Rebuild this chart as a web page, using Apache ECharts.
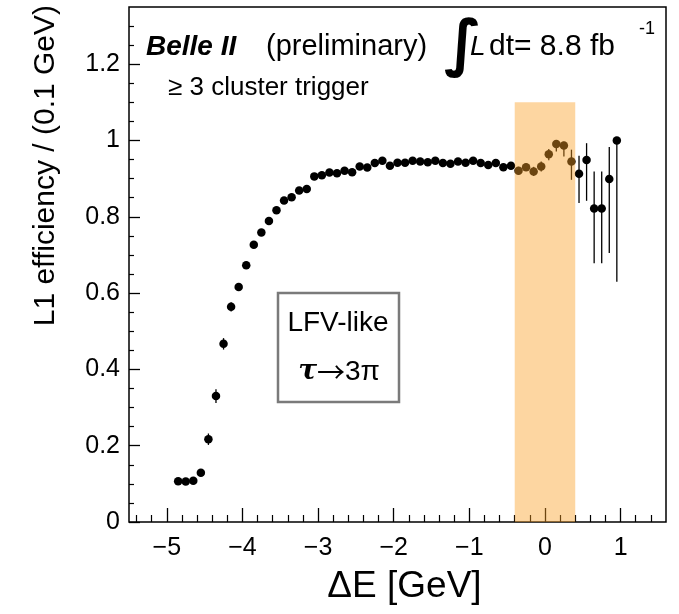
<!DOCTYPE html>
<html>
<head>
<meta charset="utf-8">
<script src="https://cdn.jsdelivr.net/npm/echarts@6/dist/echarts.min.js"></script>
<style>
  html, body { margin: 0; padding: 0; background: #fff; }
  #chart { width: 679px; height: 614px; }
</style>
</head>
<body>
<div id="chart"></div>
<script>
// bin centres (0.1 GeV bins) and L1 efficiency
const deltaE = [-4.85, -4.75, -4.65, -4.55, -4.45, -4.35, -4.25, -4.15, -4.05, -3.95,
    -3.85, -3.75, -3.65, -3.55, -3.45, -3.35, -3.25, -3.15, -3.05, -2.95,
    -2.85, -2.75, -2.65, -2.55, -2.45, -2.35, -2.25, -2.15, -2.05, -1.95,
    -1.85, -1.75, -1.65, -1.55, -1.45, -1.35, -1.25, -1.15, -1.05, -0.95,
    -0.85, -0.75, -0.65, -0.55, -0.45, -0.35, -0.25, -0.15, -0.05, 0.05,
    0.15, 0.25, 0.35, 0.45, 0.55, 0.65, 0.75, 0.85, 0.95];
const efficiency = [0.107, 0.106, 0.108, 0.129, 0.217, 0.330, 0.467, 0.564, 0.616, 0.673,
    0.727, 0.759, 0.789, 0.817, 0.843, 0.851, 0.869, 0.873, 0.906, 0.909,
    0.916, 0.914, 0.921, 0.917, 0.932, 0.929, 0.941, 0.947, 0.934, 0.942,
    0.942, 0.947, 0.945, 0.943, 0.947, 0.941, 0.939, 0.945, 0.942, 0.947,
    0.941, 0.936, 0.941, 0.930, 0.934, 0.921, 0.930, 0.919, 0.932, 0.964,
    0.991, 0.987, 0.945, 0.913, 0.949, 0.822, 0.822, 0.899, 1.000];
const errLow = [0.008, 0.008, 0.008, 0.010, 0.015, 0.018, 0.015, 0.012, 0.010, 0.010,
    0.009, 0.009, 0.008, 0.008, 0.007, 0.007, 0.007, 0.006, 0.006, 0.006,
    0.006, 0.006, 0.006, 0.006, 0.006, 0.006, 0.006, 0.006, 0.006, 0.006,
    0.006, 0.006, 0.006, 0.006, 0.006, 0.006, 0.006, 0.006, 0.006, 0.006,
    0.007, 0.007, 0.008, 0.008, 0.009, 0.010, 0.010, 0.012, 0.013, 0.016,
    0.020, 0.029, 0.048, 0.077, 0.107, 0.144, 0.144, 0.194, 0.370];
const errHigh = [0.008, 0.008, 0.008, 0.010, 0.015, 0.018, 0.015, 0.012, 0.010, 0.010,
    0.009, 0.009, 0.008, 0.008, 0.007, 0.007, 0.007, 0.006, 0.006, 0.006,
    0.006, 0.006, 0.006, 0.006, 0.006, 0.006, 0.006, 0.006, 0.006, 0.006,
    0.006, 0.006, 0.006, 0.006, 0.006, 0.006, 0.006, 0.006, 0.006, 0.006,
    0.007, 0.007, 0.008, 0.008, 0.009, 0.010, 0.010, 0.012, 0.013, 0.014,
    0.008, 0.010, 0.031, 0.047, 0.044, 0.097, 0.097, 0.084, 0.000];

// signal window band: [from, to, top]
const band = [[-0.4, 0.4, 1.1]];

// axis ticks
const xMajorTicks = [-5, -4, -3, -2, -1, 0, 1];
const xMinorTicks = [-5.4, -5.2, -4.8, -4.6, -4.4, -4.2, -3.8, -3.6, -3.4, -3.2,
    -2.8, -2.6, -2.4, -2.2, -1.8, -1.6, -1.4, -1.2, -0.8, -0.6, -0.4, -0.2,
    0.2, 0.4, 0.6, 0.8, 1.2, 1.4];
const yMajorTicks = [0, 0.2, 0.4, 0.6, 0.8, 1, 1.2];
const yMinorTicks = [0.05, 0.1, 0.15, 0.25, 0.3, 0.35, 0.45, 0.5, 0.55, 0.65, 0.7, 0.75,
    0.85, 0.9, 0.95, 1.05, 1.1, 1.15, 1.25, 1.3];

const FONT = '"Liberation Sans", Arial, Helvetica, sans-serif';

const points = deltaE.map(function(x, i) { return [x, efficiency[i]]; });
const bars = deltaE.map(function(x, i) {
    return [x, efficiency[i] - errLow[i], efficiency[i] + errHigh[i]];
});

const chart = echarts.init(document.getElementById('chart'), null, { renderer: 'canvas' });

const xBase = { type: 'value', min: -5.5, max: 1.6, gridIndex: 0, position: 'bottom', offset: 0,
    splitLine: { show: false }, axisLine: { show: false, onZero: false } };
const yBase = { type: 'value', min: 0, max: 1.35, gridIndex: 0, position: 'left', offset: 0,
    splitLine: { show: false }, axisLine: { show: false, onZero: false } };

const option = {
    animation: false,
    backgroundColor: '#fff',
    grid: {
        left: 129, right: 13, top: 7, bottom: 92,
        show: true, borderColor: '#000', borderWidth: 1.5, backgroundColor: 'transparent'
    },
    xAxis: [
        Object.assign({}, xBase, {
            name: 'ΔE [GeV]',
            nameLocation: 'middle',
            nameGap: 46,
            nameTextStyle: { fontFamily: FONT, fontSize: 37, color: '#000', padding: [0, 0, 0, 14] },
            axisTick: { inside: true, length: 14, customValues: xMajorTicks, lineStyle: { color: '#000', width: 1.3 } },
            axisLabel: {
                customValues: xMajorTicks, margin: 14, fontFamily: FONT, fontSize: 25, color: '#000',
                formatter: function(v) { return v < 0 ? '\u2212' + Math.abs(v) : String(v); }
            }
        }),
        Object.assign({}, xBase, {
            axisTick: { inside: true, length: 7, customValues: xMinorTicks, lineStyle: { color: '#000', width: 1.2 } },
            axisLabel: { show: false }
        })
    ],
    yAxis: [
        Object.assign({}, yBase, {
            axisTick: { inside: true, length: 11, customValues: yMajorTicks, lineStyle: { color: '#000', width: 1.3 } },
            axisLabel: { customValues: yMajorTicks, margin: 9, fontFamily: FONT, fontSize: 25, color: '#000' }
        }),
        Object.assign({}, yBase, {
            axisTick: { inside: true, length: 5, customValues: yMinorTicks, lineStyle: { color: '#000', width: 1.2 } },
            axisLabel: { show: false }
        })
    ],
    series: [
        {
            name: 'errors',
            type: 'custom',
            xAxisIndex: 0, yAxisIndex: 0,
            z: 2,
            renderItem: function(params, api) {
                const lo = api.coord([api.value(0), api.value(1)]);
                const hi = api.coord([api.value(0), api.value(2)]);
                return {
                    type: 'line',
                    shape: { x1: lo[0], y1: lo[1], x2: hi[0], y2: hi[1] },
                    style: { stroke: '#000', lineWidth: 1.3 }
                };
            },
            data: bars
        },
        {
            name: 'efficiency',
            type: 'scatter',
            xAxisIndex: 0, yAxisIndex: 0,
            z: 3,
            symbol: 'circle',
            symbolSize: 8.5,
            itemStyle: { color: '#000', opacity: 1 },
            data: points
        },
        {
            // translucent signal window drawn over the points
            name: 'band',
            type: 'custom',
            xAxisIndex: 0, yAxisIndex: 0,
            z: 10,
            silent: true,
            renderItem: function(params, api) {
                const p0 = api.coord([api.value(0), 0]);
                const p1 = api.coord([api.value(1), api.value(2)]);
                return {
                    type: 'rect',
                    shape: { x: p0[0], y: p1[1], width: p1[0] - p0[0], height: p0[1] - p1[1] },
                    style: { fill: 'rgba(250, 159, 37, 0.43)' }
                };
            },
            data: band
        }
    ],
    graphic: [
        {
            type: 'text', x: 46, y: 5, rotation: Math.PI / 2,
            style: { text: 'L1 efficiency / (0.1 GeV)', font: '30px ' + FONT, fill: '#000', align: 'right', verticalAlign: 'middle' }
        },
        {
            type: 'text', x: 146, y: 47,
            style: { text: 'Belle II', font: 'italic bold 28px ' + FONT, fill: '#000', verticalAlign: 'middle' }
        },
        {
            type: 'text', x: 266, y: 47,
            style: { text: '(preliminary)', font: '29px ' + FONT, fill: '#000', verticalAlign: 'middle' }
        },
        {
            type: 'text', x: 444, y: 48,
            style: { text: '\u222B', font: 'bold 62px "DejaVu Sans", ' + FONT, fill: '#000', verticalAlign: 'middle' }
        },
        {
            type: 'text', x: 470, y: 47,
            style: { text: 'L', font: 'italic 28px ' + FONT, fill: '#000', verticalAlign: 'middle' }
        },
        {
            type: 'text', x: 489, y: 47,
            style: { text: 'dt= 8.8 fb', font: '30px ' + FONT, fill: '#000', verticalAlign: 'middle' }
        },
        {
            type: 'text', x: 639, y: 29,
            style: { text: '-1', font: '18px ' + FONT, fill: '#000', verticalAlign: 'middle' }
        },
        {
            type: 'text', x: 168, y: 88,
            style: { text: '\u2265 3 cluster trigger', font: '26px ' + FONT, fill: '#000', verticalAlign: 'middle' }
        },
        {
            type: 'rect', z: 20,
            shape: { x: 278, y: 293, width: 121, height: 109 },
            style: { fill: '#fff', stroke: '#7a7a7a', lineWidth: 2.5 }
        },
        {
            type: 'text', z: 21, x: 338, y: 323,
            style: { text: 'LFV-like', font: '28px ' + FONT, fill: '#000', align: 'center', verticalAlign: 'middle' }
        },
        {
            type: 'text', z: 21, x: 339, y: 372,
            style: {
                text: '{t|\u03C4}{a|\u2192}{n|3\u03C0}', align: 'center', verticalAlign: 'middle', fill: '#000',
                rich: {
                    t: { fontFamily: '"DejaVu Serif", "Liberation Serif", serif', fontStyle: 'italic', fontWeight: 'bold', fontSize: 28, color: '#000' },
                    a: { fontFamily: '"Noto Sans CJK SC", "DejaVu Sans", sans-serif', fontSize: 28, color: '#000' },
                    n: { fontFamily: FONT, fontSize: 28, color: '#000' }
                }
            }
        }
    ]
};
chart.setOption(option);

window.addEventListener('resize', function() {
    chart.resize();
});
</script>
</body>
</html>
